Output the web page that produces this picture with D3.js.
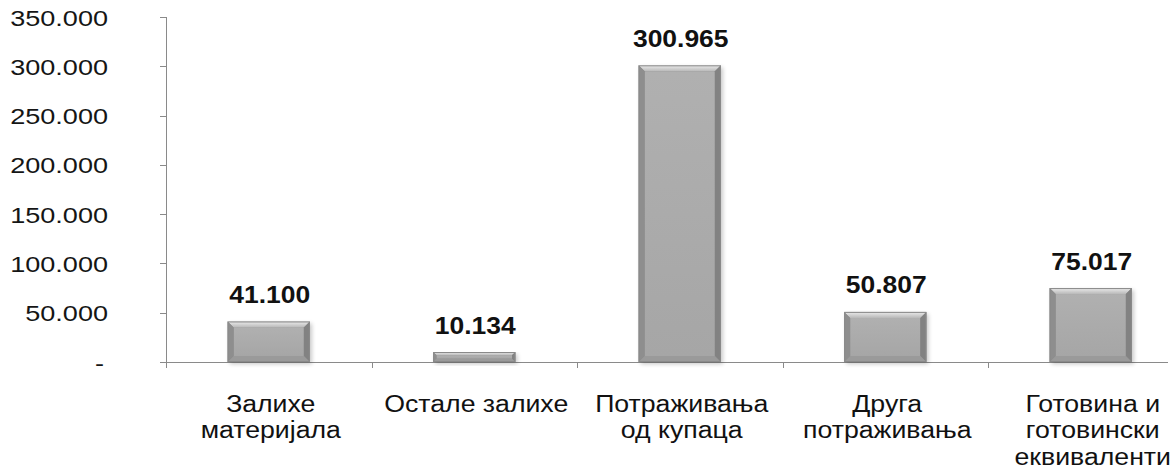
<!DOCTYPE html>
<html><head><meta charset="utf-8">
<script src="https://cdn.jsdelivr.net/npm/d3@7"></script>
<style>
html,body{margin:0;padding:0;background:#fff;}
svg{display:block;font-family:"Liberation Sans",Arial,sans-serif;}
</style></head>
<body>
<svg id="chart" width="1174" height="474"></svg>
<script>
const categories = [
  ["Залихе", "материјала"],
  ["Остале залихе"],
  ["Потраживања", "од купаца"],
  ["Друга", "потраживања"],
  ["Готовина и", "готовински", "еквиваленти"]
];
const values = [41100, 10134, 300965, 50807, 75017];
const valueLabels = ["41.100", "10.134", "300.965", "50.807", "75.017"];
const yTicks = [0, 50000, 100000, 150000, 200000, 250000, 300000, 350000];
const yTickLabels = ["-", "50.000", "100.000", "150.000", "200.000", "250.000", "300.000", "350.000"];

(function () {
const svg = d3.select("#chart");
const axisColor = "#8a8a8a";
const mLeft = 166, mBottom = 362, mTop = 17;
const ids = categories.map((c, i) => "c" + i);

const x = d3.scaleBand().domain(ids).range([mLeft, 1193.5]).paddingInner(0.6).paddingOuter(0.3);
const y = d3.scaleLinear().domain([0, 350000]).range([mBottom, mTop]);

const defs = svg.append("defs");
const gFace = defs.append("linearGradient").attr("id", "face").attr("x1", 0).attr("x2", 0).attr("y1", 0).attr("y2", 1);
gFace.append("stop").attr("offset", "0%").attr("stop-color", "#b0b0b0");
gFace.append("stop").attr("offset", "100%").attr("stop-color", "#a6a6a6");
const gTop = defs.append("linearGradient").attr("id", "topb").attr("x1", 0).attr("x2", 0).attr("y1", 0).attr("y2", 1);
gTop.append("stop").attr("offset", "0%").attr("stop-color", "#ececec");
gTop.append("stop").attr("offset", "100%").attr("stop-color", "#b8b8b8");
const flt = defs.append("filter").attr("id", "sh").attr("x", "-20%").attr("y", "-20%").attr("width", "140%").attr("height", "140%");
flt.append("feGaussianBlur").attr("stdDeviation", 2);

// y axis
const yAxis = svg.append("g");
yAxis.append("line").attr("x1", mLeft + 0.5).attr("x2", mLeft + 0.5).attr("y1", y(350000)).attr("y2", mBottom + 6)
  .attr("stroke", axisColor).attr("stroke-width", 1);
yAxis.selectAll("line.tk").data(yTicks).join("line").attr("class", "tk")
  .attr("x1", mLeft - 6).attr("x2", mLeft).attr("y1", d => Math.round(y(d)) + 0.5).attr("y2", d => Math.round(y(d)) + 0.5)
  .attr("stroke", axisColor);
yAxis.selectAll("text").data(yTicks).join("text")
  .attr("transform", d => `translate(${d === 0 ? 104 : 108},${y(d) + 8.5}) scale(1.26,1)`)
  .attr("text-anchor", "end").attr("font-size", 21.5).attr("fill", "#151515")
  .text((d, i) => yTickLabels[i]);

// x axis
const step = x.step();
const boundaries = ids.map(id => x(id) + x.bandwidth() / 2 - step / 2);
svg.append("line").attr("x1", mLeft).attr("x2", 1168).attr("y1", mBottom + 0.5).attr("y2", mBottom + 0.5).attr("stroke", axisColor);
svg.selectAll("line.xt").data(boundaries).join("line").attr("class", "xt")
  .attr("x1", d => Math.round(d) + 0.5).attr("x2", d => Math.round(d) + 0.5).attr("y1", mBottom).attr("y2", mBottom + 6)
  .attr("stroke", axisColor);

// bars
const bars = svg.append("g");
values.forEach((v, i) => {
  const x0 = x(ids[i]), x1 = x0 + x.bandwidth();
  const y0 = y(v), y1 = y(0);
  const h = y1 - y0;
  const b = Math.min(6, h / 3);
  const g = bars.append("g");
  g.append("rect").attr("x", x0 + 2).attr("y", y0 + 2).attr("width", x1 - x0).attr("height", h)
    .attr("fill", "#000").attr("opacity", 0.22).attr("filter", "url(#sh)");
  g.append("rect").attr("x", x0).attr("y", y0).attr("width", x1 - x0).attr("height", h).attr("fill", "#8d8d8d");
  g.append("rect").attr("x", x0 + b).attr("y", y0 + b).attr("width", x1 - x0 - 2 * b).attr("height", Math.max(0, h - 2 * b)).attr("fill", "url(#face)");
  const poly = pts => pts.map(p => p.join(",")).join(" ");
  g.append("polygon").attr("points", poly([[x0, y0], [x1, y0], [x1 - b, y0 + b], [x0 + b, y0 + b]])).attr("fill", "url(#topb)");
  g.append("polygon").attr("points", poly([[x0, y0], [x0 + b, y0 + b], [x0 + b, y1 - b], [x0, y1]])).attr("fill", "#8e8e8e");
  g.append("polygon").attr("points", poly([[x1, y0], [x1 - b, y0 + b], [x1 - b, y1 - b], [x1, y1]])).attr("fill", "#828282");
  g.append("polygon").attr("points", poly([[x0, y1], [x0 + b, y1 - b], [x1 - b, y1 - b], [x1, y1]])).attr("fill", "#9a9a9a");
  g.append("rect").attr("x", x0 + 0.5).attr("y", y0 + 0.5).attr("width", x1 - x0 - 1).attr("height", h - 1)
    .attr("fill", "none").attr("stroke", "#8a8a8a").attr("stroke-width", 1);
});

// value labels
svg.selectAll("text.val").data(values).join("text").attr("class", "val")
  .attr("transform", (d, i) => `translate(${x(ids[i]) + x.bandwidth() / 2 + 1},${y(d) - 18.5}) scale(1.15,1)`)
  .attr("text-anchor", "middle").attr("font-size", 23).attr("font-weight", "bold").attr("fill", "#111")
  .text((d, i) => valueLabels[i]);

// category labels
const cg = svg.selectAll("g.cat").data(categories).join("g").attr("class", "cat")
  .attr("transform", (d, i) => `translate(${x(ids[i]) + x.bandwidth() / 2 + 2},412) scale(1.16,1)`);
cg.selectAll("text").data(d => d).join("text")
  .attr("y", (d, j) => j * 26.5).attr("text-anchor", "middle").attr("font-size", 23).attr("fill", "#111")
  .text(d => d);
})();
</script>
</body></html>
